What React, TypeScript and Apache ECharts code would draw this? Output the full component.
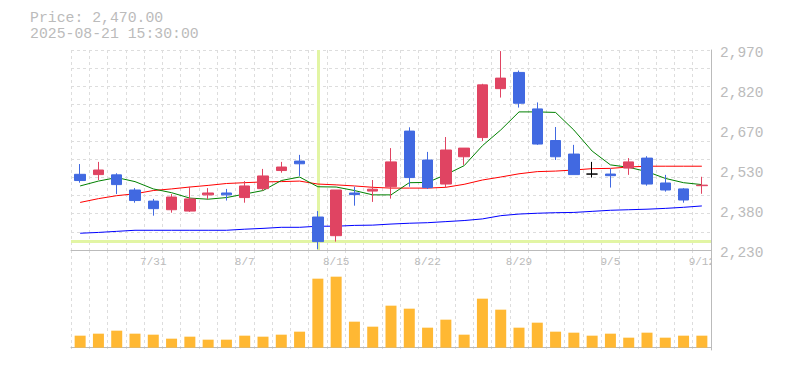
import React, { useEffect, useRef } from "react";
import * as echarts from "echarts";

const dates = ["7/25","7/28","7/29","7/30","7/31","8/1","8/4","8/5","8/6","8/7","8/8","8/12","8/13","8/14","8/15","8/18","8/19","8/20","8/21","8/22","8/25","8/26","8/27","8/28","8/29","9/1","9/2","9/3","9/4","9/5","9/8","9/9","9/10","9/11","9/12"];

// [open, close, low, high]
const ohlc = [
  [2510, 2487, 2479, 2548],
  [2509, 2526, 2489, 2556],
  [2508, 2472, 2437, 2514],
  [2452, 2413, 2405, 2459],
  [2411, 2383, 2357, 2419],
  [2379, 2426, 2368, 2437],
  [2374, 2419, 2371, 2464],
  [2434, 2441, 2418, 2459],
  [2441, 2434, 2413, 2456],
  [2424, 2467, 2405, 2485],
  [2457, 2504, 2450, 2530],
  [2524, 2537, 2516, 2556],
  [2559, 2549, 2504, 2582],
  [2352, 2261, 2233, 2374],
  [2283, 2452, 2261, 2452],
  [2441, 2435, 2394, 2464],
  [2448, 2455, 2408, 2489],
  [2464, 2556, 2420, 2607],
  [2670, 2498, 2464, 2684],
  [2563, 2461, 2456, 2593],
  [2474, 2600, 2461, 2648],
  [2575, 2607, 2545, 2607],
  [2646, 2841, 2633, 2845],
  [2827, 2866, 2794, 2966],
  [2887, 2773, 2757, 2894],
  [2752, 2622, 2619, 2776],
  [2635, 2575, 2563, 2685],
  [2585, 2509, 2509, 2619],
  [2511, 2511, 2498, 2556],
  [2511, 2505, 2461, 2531],
  [2533, 2556, 2508, 2570],
  [2570, 2474, 2468, 2577],
  [2478, 2452, 2446, 2508],
  [2456, 2415, 2405, 2459],
  [2468, 2470, 2438, 2501],
];

const ma5 = [2467, 2485, 2498, 2483, 2456, 2442, 2422, 2418, 2424, 2437, 2450, 2487, 2500, 2464, 2463, 2450, 2434, 2434, 2479, 2480, 2509, 2542, 2616, 2674, 2741, 2741, 2739, 2674, 2596, 2545, 2536, 2520, 2495, 2479, 2472];
const ma25 = [2406, 2420, 2431, 2438, 2450, 2456, 2463, 2469, 2476, 2479, 2482, 2483, 2485, 2474, 2471, 2467, 2462, 2459, 2459, 2459, 2462, 2473, 2489, 2500, 2512, 2520, 2522, 2526, 2531, 2532, 2537, 2540, 2540, 2540, 2540];
const ma75 = [2292, 2295, 2299, 2303, 2303, 2303, 2303, 2303, 2303, 2307, 2310, 2314, 2314, 2318, 2318, 2321, 2322, 2326, 2329, 2331, 2335, 2339, 2345, 2357, 2363, 2366, 2368, 2369, 2373, 2377, 2379, 2381, 2384, 2388, 2393];

const volume = [36000, 42000, 51000, 42000, 39000, 27000, 33000, 24000, 24000, 36000, 33000, 39000, 48000, 207000, 213000, 78000, 63000, 126000, 117000, 60000, 84000, 39000, 147000, 114000, 60000, 75000, 48000, 45000, 36000, 42000, 30000, 45000, 30000, 36000, 36000];

const yTickLabels = ["2,230", "2,380", "2,530", "2,670", "2,820", "2,970"];
const headerLines = ["Price: 2,470.00", "2025-08-21 15:30:00"];
const crossDate = "8/14";
const crossPrice = 2262;

const GRID_COLOR = "#dddddd";
const AXIS_COLOR = "#bbbbbb";
const LABEL_COLOR = "#bbbbbb";
const MONO = '"Liberation Mono", "DejaVu Sans Mono", monospace';

export default function App() {
  const ref = useRef<HTMLDivElement>(null);
  useEffect(() => {
    const chart = echarts.init(ref.current!, null, { renderer: "svg" });
    const dash = { color: GRID_COLOR, type: [3, 3] as any, width: 1 };
    const option: any = {
      animation: false,
      grid: [
        { left: 71, top: 50, width: 640, height: 200 },
        { left: 71, top: 250, width: 640, height: 100 },
      ],
      xAxis: [
        {
          type: "category", gridIndex: 0, data: dates, position: "bottom",
          axisLine: { show: true, lineStyle: { color: AXIS_COLOR } },
          axisTick: { show: false }, axisLabel: { show: false },
          splitLine: { show: true, interval: 0, lineStyle: dash },
        },
        {
          type: "category", gridIndex: 1, data: dates, position: "bottom",
          axisLine: { show: true, lineStyle: { color: AXIS_COLOR } },
          axisTick: { show: false }, axisLabel: { show: false },
          splitLine: { show: true, interval: 0, lineStyle: dash },
        },
        {
          type: "category", gridIndex: 1, data: dates, position: "top",
          axisLine: { show: false }, axisTick: { show: false },
          splitLine: { show: false },
          axisLabel: {
            inside: true, margin: 6, color: LABEL_COLOR, fontFamily: MONO, fontSize: 11,
            interval: (i: number) => i % 5 === 4,
          },
        },
      ],
      yAxis: [
        {
          type: "value", gridIndex: 0, position: "right", min: 2230, max: 2970,
          axisLine: { show: true, lineStyle: { color: AXIS_COLOR } },
          axisTick: { show: false }, axisLabel: { show: false }, splitLine: { show: false },
        },
        {
          type: "value", gridIndex: 0, position: "left", min: 0, max: 11, interval: 1,
          axisLine: { show: false }, axisTick: { show: false }, axisLabel: { show: false },
          splitLine: { show: true, lineStyle: dash },
        },
        {
          type: "value", gridIndex: 0, position: "right", min: 0, max: 5, interval: 1,
          axisLine: { show: false }, axisTick: { show: false }, splitLine: { show: false },
          axisLabel: {
            color: LABEL_COLOR, fontFamily: MONO, fontSize: 14.5, margin: 9,
            verticalAlign: "top", lineHeight: 6,
            formatter: (v: number) => yTickLabels[Math.round(v)] ?? "",
          },
        },
        {
          type: "value", gridIndex: 1, position: "right", min: -7000, max: 293000,
          axisLine: { show: true, lineStyle: { color: AXIS_COLOR } },
          axisTick: { show: false }, axisLabel: { show: false }, splitLine: { show: false },
        },
      ],
      series: [
        {
          type: "line", name: "MA75", xAxisIndex: 0, yAxisIndex: 0, data: ma75,
          showSymbol: false, symbol: "none", lineStyle: { color: "#0000ff", width: 1 },
          markLine: {
            silent: true, z: 1, symbol: ["none", "none"], label: { show: false },
            lineStyle: { color: "#e2f5a4", width: 3, type: "solid" },
            data: [{ xAxis: crossDate }, { yAxis: crossPrice }],
          },
        },
        {
          type: "line", name: "MA25", xAxisIndex: 0, yAxisIndex: 0, data: ma25,
          showSymbol: false, symbol: "none", lineStyle: { color: "#ff0000", width: 1 },
        },
        {
          type: "line", name: "MA5", xAxisIndex: 0, yAxisIndex: 0, data: ma5,
          showSymbol: false, symbol: "none", lineStyle: { color: "#008000", width: 1 },
        },
        {
          type: "candlestick", xAxisIndex: 0, yAxisIndex: 0, data: ohlc, barWidth: 11, z: 8,
          itemStyle: {
            color: "#e04462", color0: "#4169e1",
            borderColor: "#e04462", borderColor0: "#4169e1",
            borderColorDoji: "#000000", borderWidth: 1,
          },
        },
        {
          type: "bar", xAxisIndex: 1, yAxisIndex: 3, data: volume, barWidth: 11,
          itemStyle: { color: "#ffb833" },
        },
      ],
      graphic: [
        {
          type: "text", x: 30, y: 17.5,
          style: { text: headerLines[0], font: `14.8px ${MONO}`, fill: "#bbbbbb", verticalAlign: "middle" },
        },
        {
          type: "text", x: 30, y: 33.5,
          style: { text: headerLines[1], font: `14.8px ${MONO}`, fill: "#bbbbbb", verticalAlign: "middle" },
        },
        {
          type: "rect", shape: { x: 712, y: 253, width: 7, height: 18 },
          style: { fill: "#ffffff" }, z: 100,
        },
      ],
    };
    chart.setOption(option);
    return () => chart.dispose();
  }, []);
  return (
    <div
      ref={ref}
      style={{ position: "absolute", left: 0, top: 0, width: 785, height: 370 }}
    />
  );
}
